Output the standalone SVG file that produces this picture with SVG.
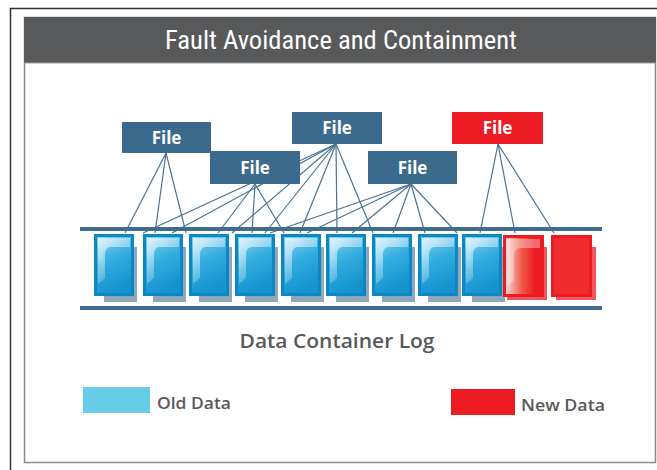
<svg xmlns="http://www.w3.org/2000/svg" width="657" height="470" viewBox="0 0 657 470">
<defs>
<style>
.file{fill:#3b6a8c}
.filer{fill:#ed1c24}
.flabel{font-family:"Open Sans","Liberation Sans",sans-serif;font-weight:bold;font-size:17px;fill:#ffffff;text-anchor:middle}
.conn line{stroke:#4a7392;stroke-width:1.2}
.rail{fill:#3f6d8e}
.shadow{fill:#8ea7bb}
.cellb{fill:url(#gBlue);stroke:#0b87c3;stroke-width:3}
.hl{fill:url(#gHl)}
.legend{font-family:"Open Sans","Liberation Sans",sans-serif;font-weight:600;font-size:16px;fill:#58595b}
</style>
<linearGradient id="gBlue" x1="0" y1="0" x2="0.3" y2="1">
<stop offset="0" stop-color="#8ad5f3"/>
<stop offset="0.5" stop-color="#33addf"/>
<stop offset="1" stop-color="#1493cf"/>
</linearGradient>
<linearGradient id="gHl" x1="0" y1="0" x2="0.6" y2="1">
<stop offset="0" stop-color="#ffffff" stop-opacity="0.75"/>
<stop offset="1" stop-color="#ffffff" stop-opacity="0.05"/>
</linearGradient>
<linearGradient id="gRed" x1="0" y1="0" x2="1" y2="0">
<stop offset="0" stop-color="#fde3df"/>
<stop offset="0.45" stop-color="#f05a4a"/>
<stop offset="0.8" stop-color="#ed1c24"/>
</linearGradient>
<g id="cell">
<rect class="shadow" x="10" y="13" width="33" height="55"/>
<rect class="cellb" x="1.5" y="1.5" width="37" height="59"/>
<path class="hl" d="M4,4 H36 V13 H17 Q11,13 11,21 V44 L4,50 Z"/>
</g>
</defs>

<!-- frame -->
<rect x="0" y="0" width="657" height="470" fill="#ffffff"/>
<path d="M10.5,470 V8.5 H657" fill="none" stroke="#333333" stroke-width="1.5"/>
<rect x="24.5" y="17.5" width="631" height="445" fill="#ffffff" stroke="#8a8a8a" stroke-width="1.5"/>

<g id="header">
<rect x="24" y="17" width="632" height="46" fill="#58595b"/>
<line x1="24" y1="63" x2="656" y2="63" stroke="#a0a0a0" stroke-width="1"/>
<text x="341" y="49" font-family="'Liberation Sans Narrow','Roboto Condensed','Liberation Sans',sans-serif" font-size="25" fill="#ffffff" text-anchor="middle" textLength="352" lengthAdjust="spacingAndGlyphs">Fault Avoidance and Containment</text>
</g>

<!-- connectors -->
<g id="connectors" class="conn">
<line x1="166" y1="153" x2="125" y2="233"/>
<line x1="166" y1="153" x2="155" y2="233"/>
<line x1="166" y1="153" x2="186" y2="233"/>
<line x1="336" y1="144" x2="143" y2="233"/>
<line x1="336" y1="144" x2="172" y2="233"/>
<line x1="336" y1="144" x2="232" y2="233"/>
<line x1="336" y1="144" x2="265" y2="233"/>
<line x1="336" y1="144" x2="300" y2="233"/>
<line x1="336" y1="144" x2="337" y2="233"/>
<line x1="336" y1="144" x2="373" y2="233"/>
<line x1="255" y1="184" x2="218" y2="233"/>
<line x1="255" y1="184" x2="252" y2="233"/>
<line x1="255" y1="184" x2="284" y2="233"/>
<line x1="411" y1="184" x2="270" y2="233"/>
<line x1="411" y1="184" x2="307" y2="233"/>
<line x1="411" y1="184" x2="352" y2="233"/>
<line x1="411" y1="184" x2="393" y2="233"/>
<line x1="411" y1="184" x2="425" y2="233"/>
<line x1="411" y1="184" x2="457" y2="233"/>
<line x1="498" y1="144" x2="480" y2="233"/>
<line x1="498" y1="144" x2="515" y2="233"/>
<line x1="498" y1="144" x2="554" y2="233"/>
</g>

<g id="file-a"><rect class="file" x="122" y="122" width="89" height="31"/><text class="flabel" x="166.5" y="144">File</text></g>
<g id="file-c"><rect class="file" x="292" y="112" width="90" height="32"/><text class="flabel" x="337" y="134">File</text></g>
<g id="file-b"><rect class="file" x="210" y="151" width="90" height="33"/><text class="flabel" x="255" y="174">File</text></g>
<g id="file-d"><rect class="file" x="368" y="151" width="89" height="33"/><text class="flabel" x="412.5" y="174">File</text></g>
<g id="file-e"><rect class="filer" x="452" y="112" width="91" height="32"/><text class="flabel" x="497.5" y="134">File</text></g>

<g id="log">
<rect class="rail" x="80" y="227" width="522" height="4"/>
<rect class="rail" x="80" y="306" width="522" height="4"/>
<use href="#cell" x="94" y="234"/>
<use href="#cell" x="143" y="234"/>
<use href="#cell" x="189" y="234"/>
<use href="#cell" x="235" y="234"/>
<use href="#cell" x="281" y="234"/>
<use href="#cell" x="326" y="234"/>
<use href="#cell" x="372" y="234"/>
<use href="#cell" x="418" y="234"/>
<use href="#cell" x="462" y="234"/>
<g id="new-1">
<rect x="507" y="247" width="40" height="53" fill="#ed1c24" opacity="0.75"/>
<rect x="504.5" y="236.5" width="38" height="59" fill="url(#gRed)" stroke="#ed1c24" stroke-width="3"/>
<path d="M507,239 H540 V248 H520 Q514,248 514,256 V280 L507,286 Z" fill="#ffffff" opacity="0.35"/>
</g>
<g id="new-2">
<rect x="556" y="247" width="40" height="53" fill="#ed1c24" opacity="0.75"/>
<rect x="552.5" y="236.5" width="38" height="59" fill="#ef2b2e" stroke="#ed1c24" stroke-width="3"/>
</g>
<text x="337" y="348" font-family="'Open Sans','Liberation Sans',sans-serif" font-weight="600" font-size="19" fill="#58595b" text-anchor="middle" textLength="195" lengthAdjust="spacingAndGlyphs">Data Container Log</text>
</g>

<g id="legend-old">
<rect x="83" y="387" width="67" height="26" fill="#66cce8"/>
<text class="legend" x="157" y="409" textLength="74" lengthAdjust="spacingAndGlyphs">Old Data</text>
</g>
<g id="legend-new">
<rect x="451" y="389" width="64" height="26" fill="#ed1c24"/>
<text class="legend" x="521" y="411" textLength="84" lengthAdjust="spacingAndGlyphs">New Data</text>
</g>
</svg>
